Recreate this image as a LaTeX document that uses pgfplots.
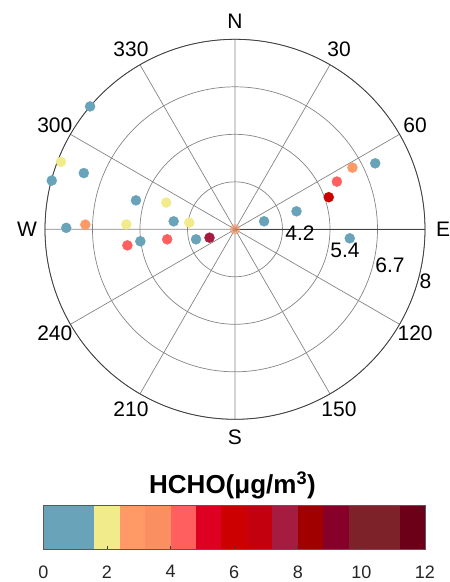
\documentclass[border=0pt]{standalone}
\usepackage{fontspec}
\setmainfont{Liberation Sans}
\usepackage{pgfplots}
\usepackage{pgfplotstable}
\pgfplotsset{compat=1.18}
\usepgfplotslibrary{polar}

% HCHO colour scale (bins of 0.8 ug/m3)
\definecolor{c01}{HTML}{68A3B9}
\definecolor{c02}{HTML}{F2EB8C}
\definecolor{c03}{HTML}{FF9966}
\definecolor{c04}{HTML}{FA9062}
\definecolor{c05}{HTML}{FF5F5F}
\definecolor{c06}{HTML}{DD0020}
\definecolor{c07}{HTML}{CC0000}
\definecolor{c08}{HTML}{C2000E}
\definecolor{c09}{HTML}{A51C40}
\definecolor{c10}{HTML}{A00000}
\definecolor{c11}{HTML}{87002A}
\definecolor{c12}{HTML}{7E222A}
\definecolor{c13}{HTML}{6C0019}

% wind direction (deg, from north, clockwise) and wind speed (m/s)
\pgfplotstableread{
dir   ws
310.3 8.00
284.9 7.99
290.4 7.23
286.3 5.67
277.4 4.56
270.5 7.43
262.8 5.46
255.6 3.98
74.6  3.71
73.7  4.62
64.8  7.06
94.5  5.99
}\blueset
\pgfplotstableread{
dir   ws
291.2 7.91
291.2 4.88
278.3 4.14
272.6 5.82
}\yellowset
\pgfplotstableread{
dir   ws
271.8 6.92
62.3  6.46
}\orangeset
\pgfplotstableread{
dir   ws
261.5 5.82
261.6 4.74
64.9  5.92
}\salmonset
\pgfplotstableread{
dir   ws
71.1  5.56
}\redset
\pgfplotstableread{
dir   ws
251.8 3.62
}\crimsonset
\pgfplotstableread{
dir   ws
0     2.90
}\calmset

\newcommand\lbl{\fontsize{21}{21}\selectfont}

\begin{document}
\begin{tikzpicture}
\begin{polaraxis}[
  at={(0pt,0pt)}, anchor=origin,
  scale only axis, width=380pt, height=380pt,
  xmin=0, xmax=360, ymin=0, ymax=5.1,
  clip=false,
  xtick={0,30,...,330},
  xticklabels={},
  ytick={1.275,2.55,3.825,5.1},
  yticklabels={{},{},{},{}},
  major tick length=0pt,
  grid=major,
  major grid style={draw=black!48, line width=0.7pt},
  axis line style={draw=black!75, line width=0.8pt},
  every axis plot/.append style={only marks, mark=*, mark size=5pt},
]
\addplot[mark options={fill=c01, draw=c01}] table[x expr=90-\thisrow{dir}, y expr=\thisrow{ws}-2.9] {\blueset};
\addplot[mark options={fill=c02, draw=c02}] table[x expr=90-\thisrow{dir}, y expr=\thisrow{ws}-2.9] {\yellowset};
\addplot[mark options={fill=c03, draw=c03}] table[x expr=90-\thisrow{dir}, y expr=\thisrow{ws}-2.9] {\orangeset};
\addplot[mark options={fill=c05, draw=c05}] table[x expr=90-\thisrow{dir}, y expr=\thisrow{ws}-2.9] {\salmonset};
\addplot[mark options={fill=c07, draw=c07}] table[x expr=90-\thisrow{dir}, y expr=\thisrow{ws}-2.9] {\redset};
\addplot[mark options={fill=c09, draw=c09}] table[x expr=90-\thisrow{dir}, y expr=\thisrow{ws}-2.9] {\crimsonset};
\addplot[mark options={fill=c03, draw=c03, opacity=0.6}] table[x expr=90-\thisrow{dir}, y expr=\thisrow{ws}-2.9] {\calmset};
% direction labels around the rim
\node[font=\lbl] at (axis cs:90,5.584)  {N};
\node[font=\lbl] at (axis cs:60,5.584)  {30};
\node[font=\lbl] at (axis cs:30,5.584)  {60};
\node[font=\lbl] at (axis cs:0,5.584)   {E};
\node[font=\lbl] at (axis cs:-30,5.584) {120};
\node[font=\lbl] at (axis cs:-60,5.584) {150};
\node[font=\lbl] at (axis cs:-90,5.584) {S};
\node[font=\lbl] at (axis cs:240,5.584) {210};
\node[font=\lbl] at (axis cs:210,5.584) {240};
\node[font=\lbl] at (axis cs:180,5.584) {W};
\node[font=\lbl] at (axis cs:150,5.584) {300};
\node[font=\lbl] at (axis cs:120,5.584) {330};
% radial labels
\node[font=\lbl] at (axis cs:-3.5,1.748) {4.2};
\node[font=\lbl] at (axis cs:-10.7,3.004) {5.4};
\node[font=\lbl] at (axis cs:-13,4.27) {6.7};
\node[font=\lbl] at (axis cs:-15.4,5.30) {8};
\end{polaraxis}

\begin{axis}[
  at={(-191.7pt,-319.7pt)}, anchor=south west,
  scale only axis, width=381.7pt, height=43.3pt,
  xmin=0, xmax=12, ymin=0, ymax=1,
  ytick=\empty,
  xtick={0,2,...,12},
  xtick pos=bottom,
  tick align=inside,
  major tick length=3.5pt,
  tick style={draw=black!75, line width=0.7pt},
  axis line style={draw=black!65, line width=0.8pt},
  axis on top,
  /pgf/number format/assume math mode=true,
  xticklabel style={font=\fontsize{18}{18}\selectfont, text=black!85, yshift=-13pt},
  every axis plot/.append style={draw=none},
]
\addplot[fill=c01] coordinates {(0,1)(1.6,1)} \closedcycle;
\addplot[fill=c02] coordinates {(1.6,1)(2.4,1)} \closedcycle;
\addplot[fill=c03] coordinates {(2.4,1)(3.2,1)} \closedcycle;
\addplot[fill=c04] coordinates {(3.2,1)(4.0,1)} \closedcycle;
\addplot[fill=c05] coordinates {(4.0,1)(4.8,1)} \closedcycle;
\addplot[fill=c06] coordinates {(4.8,1)(5.6,1)} \closedcycle;
\addplot[fill=c07] coordinates {(5.6,1)(6.4,1)} \closedcycle;
\addplot[fill=c08] coordinates {(6.4,1)(7.2,1)} \closedcycle;
\addplot[fill=c09] coordinates {(7.2,1)(8.0,1)} \closedcycle;
\addplot[fill=c10] coordinates {(8.0,1)(8.8,1)} \closedcycle;
\addplot[fill=c11] coordinates {(8.8,1)(9.6,1)} \closedcycle;
\addplot[fill=c12] coordinates {(9.6,1)(11.2,1)} \closedcycle;
\addplot[fill=c13] coordinates {(11.2,1)(12,1)} \closedcycle;
\end{axis}

\node[font=\bfseries\fontsize{26}{26}\selectfont] at (-2.5pt,-255.7pt) {HCHO(μg/m\textsuperscript{3})};

\pgfresetboundingbox
\path[use as bounding box] (-235pt,229.3pt) rectangle (215pt,-352.7pt);
\end{tikzpicture}
\end{document}
